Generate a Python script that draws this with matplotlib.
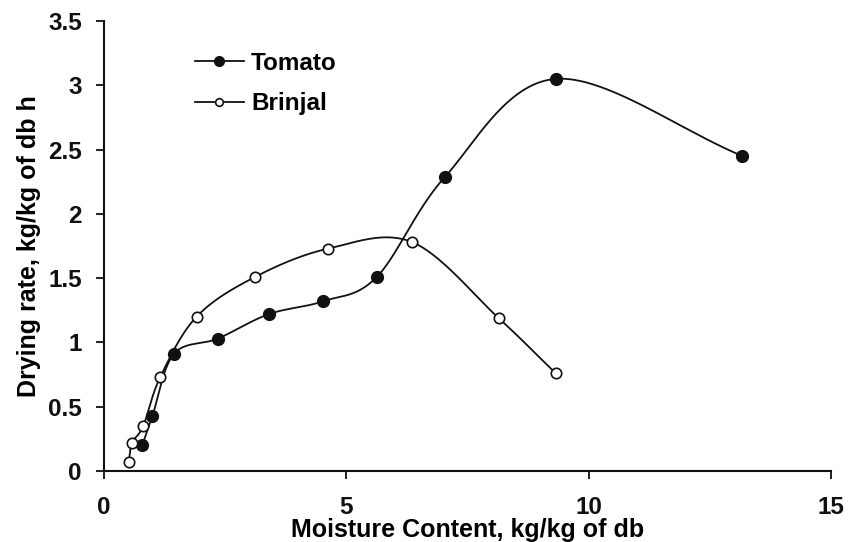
import numpy as np
import matplotlib
matplotlib.use("Agg")
import matplotlib.pyplot as plt
from matplotlib.lines import Line2D

# Drying rate vs moisture content
tomato_mc = [0.79, 1.00, 1.44, 2.35, 3.40, 4.52, 5.63, 7.04, 9.33, 13.17]
tomato_rate = [0.20, 0.43, 0.91, 1.03, 1.22, 1.32, 1.51, 2.29, 3.05, 2.45]

brinjal_mc = [0.51, 0.58, 0.81, 1.16, 1.91, 3.12, 4.63, 6.36, 8.14, 9.32]
brinjal_rate = [0.07, 0.22, 0.35, 0.73, 1.20, 1.51, 1.73, 1.78, 1.19, 0.76]

x_ticks = [0, 5, 10, 15]
y_ticks = [0, 0.5, 1, 1.5, 2, 2.5, 3, 3.5]
y_tick_labels = ["0", "0.5", "1", "1.5", "2", "2.5", "3", "3.5"]


def smooth_curve(xs, ys, n=40):
    """Uniform Catmull-Rom spline through the points (smoothed line)."""
    p = np.column_stack([xs, ys]).astype(float)
    ext = np.vstack([2 * p[0] - p[1], p, 2 * p[-1] - p[-2]])
    out = []
    t = np.linspace(0, 1, n, endpoint=False)[:, None]
    for i in range(1, len(ext) - 2):
        p0, p1, p2, p3 = ext[i - 1], ext[i], ext[i + 1], ext[i + 2]
        seg = 0.5 * ((2 * p1) + (-p0 + p2) * t
                     + (2 * p0 - 5 * p1 + 4 * p2 - p3) * t ** 2
                     + (-p0 + 3 * p1 - 3 * p2 + p3) * t ** 3)
        out.append(seg)
    out.append(p[-1][None, :])
    c = np.vstack(out)
    return c[:, 0], c[:, 1]


plt.rcParams["font.family"] = ["Liberation Sans", "DejaVu Sans"]
plt.rcParams["font.weight"] = "bold"

fig = plt.figure(figsize=(8.58, 5.42), dpi=100)
ax = fig.add_axes([104 / 858, 1 - 471 / 542, (831 - 104) / 858, (471 - 21) / 542])

lw = 1.3
tx, ty = smooth_curve(tomato_mc, tomato_rate)
bx, by = smooth_curve(brinjal_mc, brinjal_rate)
ax.plot(tx, ty, color="#111111", lw=lw, zorder=2)
ax.plot(bx, by, color="#111111", lw=lw, zorder=2)
ax.plot(tomato_mc, tomato_rate, ls="none", marker="o", ms=8.5,
        mfc="#111111", mec="#111111", zorder=3)
ax.plot(brinjal_mc, brinjal_rate, ls="none", marker="o", ms=7.5,
        mfc="white", mec="#111111", mew=1.2, zorder=3)

ax.set_xlim(0, 15)
ax.set_ylim(0, 3.5)
ax.set_xticks(x_ticks)
ax.set_xticklabels([str(v) for v in x_ticks])
ax.set_yticks(y_ticks)
ax.set_yticklabels(y_tick_labels)

for s in ["top", "right"]:
    ax.spines[s].set_visible(False)
for s in ["left", "bottom"]:
    ax.spines[s].set_linewidth(1.5)
    ax.spines[s].set_color("#111111")

ax.tick_params(axis="both", direction="out", length=6, width=1.3,
               colors="#111111", labelsize=17.5)
ax.tick_params(axis="x", pad=12)
ax.tick_params(axis="y", pad=10)
for lab in ax.get_xticklabels() + ax.get_yticklabels():
    lab.set_fontweight("bold")

ax.set_xlabel("Moisture Content, kg/kg of db", fontsize=18,
              fontweight="bold", labelpad=-1)
ax.set_ylabel("Drying rate, kg/kg of db h", fontsize=18,
              fontweight="bold", labelpad=5)

handles = [
    Line2D([], [], color="#111111", lw=lw, marker="o", ms=7,
           mfc="#111111", mec="#111111"),
    Line2D([], [], color="#111111", lw=lw, marker="o", ms=5.5,
           mfc="white", mec="#111111", mew=1.2),
]
leg = ax.legend(handles, ["Tomato", "Brinjal"], loc="upper left",
                bbox_to_anchor=(195 / 858, 1 - 52 / 542),
                bbox_transform=fig.transFigure, frameon=False,
                prop={"weight": "bold", "size": 17.5},
                handlelength=2.0, handletextpad=0.3, labelspacing=0.7,
                borderpad=0, borderaxespad=0)

fig.savefig("out.png", dpi=100)
